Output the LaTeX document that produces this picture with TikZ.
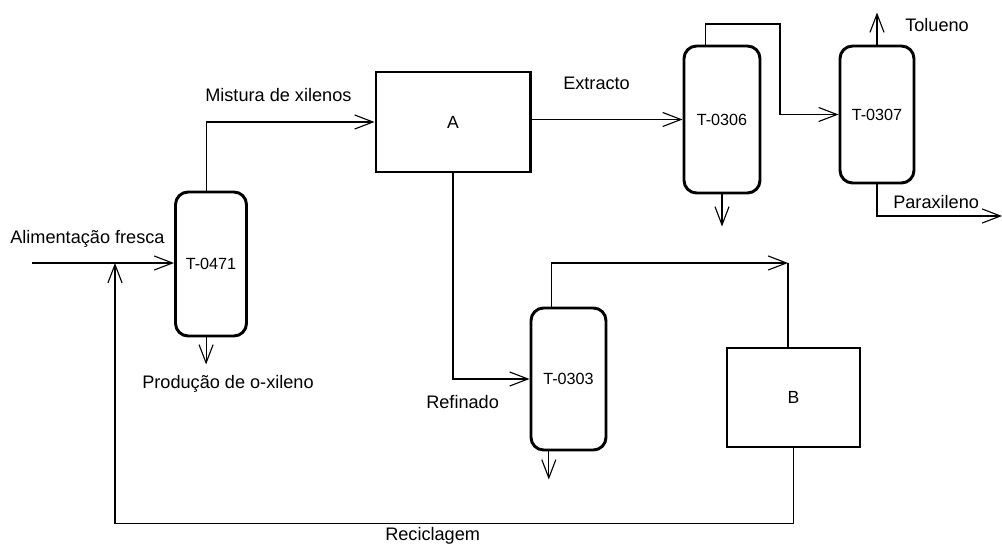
\documentclass[tikz,border=0pt]{standalone}
\usepackage{fontspec}
\setmainfont{Liberation Sans}
\usetikzlibrary{arrows.meta, positioning, calc}

\tikzset{
  column/.style={draw, line width=2.1pt, rounded corners=9pt, inner sep=0pt,
    font=\fontsize{11.5}{14}\selectfont},
  unit/.style={draw, line width=2.1pt, inner sep=0pt, font=\fontsize{12.5}{14}\selectfont},
  stream/.style={line width=0.8pt, -{Straight Barb[length=13pt,width=10pt]}},
  pipe/.style={line width=0.8pt},
  lbl/.style={inner sep=0pt, anchor=base west, font=\fontsize{12.9}{15}\selectfont}
}

\begin{document}
\begin{tikzpicture}[x=0.025cm, y=-0.025cm]
      \useasboundingbox (0,0) rectangle (1002,544);

      % Columns and units
      \node[column, minimum width=1.775cm, minimum height=3.6cm] (t0471) at (211,264) {T-0471};
      \node[column, minimum width=1.9cm, minimum height=3.675cm] (t0306) at (722,119.5) {T-0306};
      \node[column, minimum width=1.85cm, minimum height=3.425cm] (t0307) at (877,114.5) {T-0307};
      \node[column, minimum width=1.875cm, minimum height=3.55cm] (t0303) at (568.5,379) {T-0303};
      \node[unit, minimum width=3.85cm, minimum height=2.5cm] (a) at (453,122) {A};
      \node[unit, minimum width=3.325cm, minimum height=2.475cm] (b) at (793.5,397.5) {B};

      % Free ends
      \coordinate (feed) at (32,263);
      \coordinate (join) at (115,263);
      \coordinate (binlet) at (788,263);
      \coordinate (jog) at (780,24);
      \coordinate (out) at (1002,216);

      % Feed and recycle
      \draw[stream] (feed) -- (feed -| t0471.west);
      \draw[stream] (b.south) -- ++(0,75) -| (join);

      % T-0471
      \draw[stream] ([xshift=-3.5pt]t0471.north) |- (a.west);
      \draw[stream] ([xshift=-3.5pt]t0471.south) -- ++(0,27);

      % Extract side
      \draw[stream] (a.east |- t0306.west) -- (t0306.west);
      \draw[stream] ([xshift=-12pt]t0306.north) |- (jog) |- (t0307.west);
      \draw[stream] (t0306.south) -- ++(0,32);
      \draw[stream] (t0307.north) -- ++(0,-32);
      \draw[stream] (t0307.south) |- (out);

      % Raffinate side
      \draw[stream] (a.south) |- (t0303.west);
      \draw[stream] ([xshift=-12pt]t0303.north) |- (binlet);
      \draw[pipe] (binlet) -- (binlet |- b.north);
      \draw[stream] ([xshift=-14pt]t0303.south) -- ++(0,28);

      % Labels
      \node[lbl] (lfeed) at (10,244) {Alimentação fresca};
      \node[lbl] (lmix) at (205,102) {Mistura de xilenos};
      \node[lbl] (lox) at (142,389) {Produção de o-xileno};
      \node[lbl] (lext) at (563,90) {Extracto};
      \node[lbl] (ltol) at (905,32) {Tolueno};
      \node[lbl] (lpx) at (893,209) {Paraxileno};
      \node[lbl] (lraf) at (426,409) {Refinado};
      \node[lbl] (lrec) at (385,540) {Reciclagem};
\end{tikzpicture}
\end{document}
